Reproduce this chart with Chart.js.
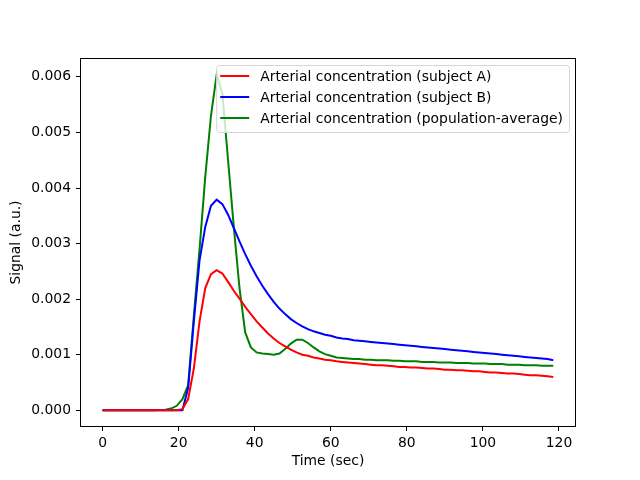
<!DOCTYPE html>
<html>
<head>
<meta charset="utf-8">
<script src="https://cdn.jsdelivr.net/npm/chart.js@4.4.1/dist/chart.umd.min.js"></script>
<style>
  html, body { margin: 0; padding: 0; background: #fff; }
</style>
</head>
<body>
<canvas id="signal" width="640" height="480"></canvas>
<script>
/* globals Chart:false */

// sample times (s)
const timeSec = [
  0, 1.5, 3, 4.5, 6, 7.5, 9, 10.5, 12, 13.5,
  15, 16.5, 18, 19.5, 21, 22.5, 24, 25.5, 27, 28.5,
  30, 31.5, 33, 34.5, 36, 37.5, 39, 40.5, 42, 43.5,
  45, 46.5, 48, 49.5, 51, 52.5, 54, 55.5, 57, 58.5,
  60, 61.5, 63, 64.5, 66, 67.5, 69, 70.5, 72, 73.5,
  75, 76.5, 78, 79.5, 81, 82.5, 84, 85.5, 87, 88.5,
  90, 91.5, 93, 94.5, 96, 97.5, 99, 100.5, 102, 103.5,
  105, 106.5, 108, 109.5, 111, 112.5, 114, 115.5, 117, 118.5
]

const subjectA = [
  0, 0, 0, 0, 0, 0, 0, 0, 0, 0,
  0, 0, 0, 0, 0.00002, 0.0002, 0.00075, 0.0016, 0.0022, 0.00245,
  0.00252, 0.00246, 0.00231, 0.00215, 0.00201, 0.00186, 0.00173, 0.0016, 0.00149, 0.00138,
  0.00129, 0.00121, 0.00115, 0.00109, 0.00104, 0.001, 0.00098, 0.00095, 0.00093, 0.00091,
  0.0009, 0.00088, 0.00087, 0.00086, 0.00085, 0.00084, 0.00083, 0.00082, 0.00081, 0.00081,
  0.0008, 0.00079, 0.00078, 0.00078, 0.00077, 0.00077, 0.00076, 0.00075, 0.00075, 0.00074,
  0.00073, 0.00073, 0.00072, 0.00072, 0.00071, 0.0007, 0.0007, 0.00069, 0.00068, 0.00068,
  0.00067, 0.00066, 0.00066, 0.00065, 0.00064, 0.00063, 0.00063, 0.00062, 0.00061, 0.0006
]

const subjectB = [
  0, 0, 0, 0, 0, 0, 0, 0, 0, 0,
  0, 0, 0, 0, 0, 0.0004, 0.0016, 0.0027, 0.0033, 0.00368,
  0.00379, 0.00371, 0.00352, 0.00328, 0.00304, 0.00281, 0.0026, 0.00241, 0.00224, 0.00209,
  0.00195, 0.00183, 0.00173, 0.00164, 0.00157, 0.00151, 0.00146, 0.00142, 0.00139, 0.00136,
  0.00134, 0.00131, 0.00129, 0.00128, 0.00126, 0.00125, 0.00124, 0.00123, 0.00122, 0.00121,
  0.0012, 0.00119, 0.00118, 0.00117, 0.00116, 0.00115, 0.00114, 0.00113, 0.00112, 0.00111,
  0.0011, 0.00109, 0.00108, 0.00107, 0.00106, 0.00105, 0.00104, 0.00103, 0.00102, 0.00101,
  0.001, 0.00099, 0.00098, 0.00097, 0.00096, 0.00095, 0.00094, 0.00093, 0.00092, 0.0009
]

const populationAvg = [
  0, 0, 0, 0, 0, 0, 0, 0, 0, 0,
  0.000005, 0.00001, 0.00003, 0.00008, 0.0002, 0.00045, 0.0017, 0.0029, 0.0042, 0.0053,
  0.00604, 0.0057, 0.0045, 0.0033, 0.0022, 0.0014, 0.00113, 0.00104, 0.00102, 0.00101,
  0.001, 0.00102, 0.0011, 0.0012, 0.00127, 0.00127, 0.00121, 0.00113, 0.00106, 0.00101,
  0.00098, 0.00095, 0.00094, 0.00093, 0.00092, 0.00092, 0.00091, 0.00091, 0.0009, 0.0009,
  0.0009, 0.00089, 0.00089, 0.00088, 0.00088, 0.00088, 0.00087, 0.00087, 0.00087, 0.00086,
  0.00086, 0.00086, 0.00085, 0.00085, 0.00085, 0.00084, 0.00084, 0.00084, 0.00083, 0.00083,
  0.00083, 0.00082, 0.00082, 0.00082, 0.00081, 0.00081, 0.00081, 0.0008, 0.0008, 0.0008
]

const seriesLabels = [
  'Arterial concentration (subject A)',
  'Arterial concentration (subject B)',
  'Arterial concentration (population-average)'
]

const xTicks = [0, 20, 40, 60, 80, 100, 120]
const yTicks = [0, 0.001, 0.002, 0.003, 0.004, 0.005, 0.006]

const FONT = '"DejaVu Sans", sans-serif'
const FONT_SIZE = 13.9

Chart.defaults.font.family = FONT
Chart.defaults.font.size = FONT_SIZE
Chart.defaults.color = '#000'

const toPoints = (vals) => vals.map((v, i) => ({ x: timeSec[i], y: v }))

// axes frame + legend drawn matplotlib style
const frameAndLegend = {
  id: 'frameAndLegend',
  afterDatasetsDraw(chart) {
    const ctx = chart.ctx
    const a = chart.chartArea
    ctx.save()
    ctx.strokeStyle = '#000'
    ctx.lineWidth = 1
    ctx.strokeRect(Math.round(a.left) + 0.5, Math.round(a.top) + 0.5,
      Math.round(a.right - a.left) - 1, Math.round(a.bottom - a.top) - 1)

    const sets = chart.data.datasets
    ctx.font = FONT_SIZE + 'px ' + FONT
    const textW = Math.max(...sets.map(d => ctx.measureText(d.label).width))
    const right = a.right - 7
    const top = a.top + 7
    const left = right - textW - 50
    ctx.beginPath()
    ctx.roundRect(left + 0.5, top + 0.5, right - left, 67, 3)
    ctx.fillStyle = 'rgba(255,255,255,0.8)'
    ctx.fill()
    ctx.strokeStyle = '#d6d6d6'
    ctx.stroke()
    sets.forEach((d, i) => {
      const y = top + 11 + i * 21
      ctx.beginPath()
      ctx.moveTo(left + 4, y)
      ctx.lineTo(left + 33, y)
      ctx.strokeStyle = d.borderColor
      ctx.lineWidth = 2
      ctx.stroke()
      ctx.fillStyle = '#000'
      ctx.textBaseline = 'middle'
      ctx.textAlign = 'left'
      ctx.fillText(d.label, left + 44, y + 1)
    })
    ctx.restore()
  }
}

const mkLine = (label, vals, color) => ({
  label: label,
  data: toPoints(vals),
  borderColor: color,
  backgroundColor: color,
  borderWidth: 2,
  pointRadius: 0,
  tension: 0,
  fill: false
})

const signal = document.getElementById('signal')
// eslint-disable-next-line no-unused-vars
const signalChart = new Chart(signal, {
  type: 'line',
  data: {
    datasets: [
      mkLine(seriesLabels[0], subjectA, '#ff0000'),
      mkLine(seriesLabels[1], subjectB, '#0000ff'),
      mkLine(seriesLabels[2], populationAvg, '#008000')
    ]
  },
  options: {
    responsive: false,
    animation: false,
    devicePixelRatio: 1,
    layout: { padding: { top: 58, right: 64, left: 0, bottom: 0 } },
    plugins: {
      legend: { display: false },
      tooltip: { enabled: false }
    },
    scales: {
      x: {
        type: 'linear',
        min: -5.93,
        max: 124.47,
        afterFit: (s) => { s.height = 53 },
        afterBuildTicks: (s) => { s.ticks = xTicks.map(v => ({ value: v })) },
        grid: { drawOnChartArea: false, drawTicks: true, tickLength: 4, tickColor: '#000' },
        border: { display: false },
        ticks: { padding: 4, maxRotation: 0, callback: (v) => String(v) },
        title: { display: true, text: 'Time (sec)', padding: { top: 10, bottom: 10 } }
      },
      y: {
        type: 'linear',
        min: -0.000302,
        max: 0.00634,
        afterFit: (s) => { s.width = 80 },
        afterBuildTicks: (s) => { s.ticks = yTicks.map(v => ({ value: v })) },
        grid: { drawOnChartArea: false, drawTicks: true, tickLength: 4, tickColor: '#000' },
        border: { display: false },
        ticks: { padding: 5, callback: (v) => v.toFixed(3) },
        title: { display: true, text: 'Signal (a.u.)', padding: { top: 8, bottom: 8 } }
      }
    }
  },
  plugins: [frameAndLegend]
})
</script>
</body>
</html>
